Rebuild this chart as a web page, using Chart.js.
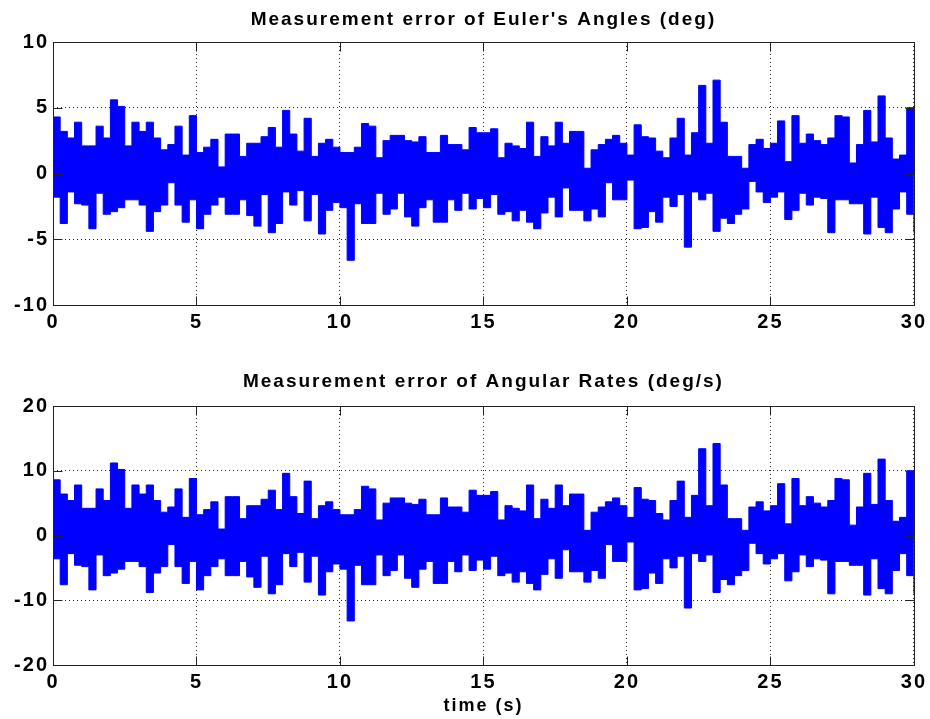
<!DOCTYPE html>
<html>
<head>
<meta charset="utf-8">
<script src="https://cdn.jsdelivr.net/npm/chart.js@4.4.0/dist/chart.umd.min.js"></script>
<style>
  html, body { margin: 0; padding: 0; background: #fff; }
  canvas { display: block; }
</style>
</head>
<body>
<canvas id="angles" width="930" height="360"></canvas>
<canvas id="rates" width="930" height="359"></canvas>
<script>
// time base: one value every 0.25 s from 0 to 30 s
var sampleStep = 0.25;
var times = [];
for (var i = 0; i <= 120; i++) times.push(i * sampleStep);

var xTicks = [0, 5, 10, 15, 20, 25, 30];

// Euler angles error (deg): upper and lower edge of the noise band
var angleUpper = [
  4.3, 3.2, 2.7, 3.9, 2.1, 2.1, 3.6, 2.7, 5.6, 5.1,
  2.1, 3.9, 3.2, 3.9, 2.7, 1.8, 2.2, 3.6, 1.4, 4.4,
  1.6, 2.0, 2.6, 0.5, 3.0, 3.0, 1.3, 2.3, 2.3, 2.8,
  3.5, 2.0, 4.8, 3.0, 1.7, 4.2, 1.3, 2.3, 2.6, 2.0,
  1.6, 1.6, 2.0, 3.8, 3.6, 1.2, 2.5, 2.9, 2.9, 2.5,
  2.4, 2.8, 1.6, 1.6, 2.9, 2.2, 2.2, 1.8, 3.5, 3.1,
  3.1, 3.4, 1.2, 2.3, 2.1, 1.9, 3.9, 1.3, 2.8, 2.1,
  3.9, 2.3, 3.2, 3.2, 0.4, 1.8, 2.2, 2.6, 2.9, 2.3,
  1.4, 3.7, 2.8, 2.7, 1.7, 1.2, 2.7, 4.2, 1.4, 3.1,
  6.7, 2.3, 7.1, 3.9, 1.3, 1.3, 0.4, 2.2, 2.6, 1.9,
  2.3, 4.0, 0.9, 4.4, 2.3, 3.0, 2.5, 2.2, 2.7, 4.4,
  4.3, 0.8, 2.2, 4.8, 2.4, 5.9, 2.7, 1.1, 1.4, 5.0,
  0.0
];
var angleLower = [
  -1.8, -3.8, -1.4, -2.3, -2.4, -4.2, -1.5, -3.1, -2.9, -2.6,
  -2.0, -2.0, -2.4, -4.4, -2.9, -2.4, -0.7, -2.4, -3.7, -2.0,
  -4.2, -3.1, -2.4, -1.8, -3.1, -3.1, -2.0, -3.2, -4.0, -1.6,
  -4.5, -3.8, -1.4, -2.4, -1.3, -3.6, -1.6, -4.6, -2.8, -2.2,
  -2.6, -6.6, -2.3, -3.8, -3.8, -1.5, -3.1, -2.7, -1.5, -3.3,
  -4.0, -2.6, -2.0, -3.7, -3.7, -2.0, -2.8, -1.5, -2.7, -1.9,
  -2.6, -1.6, -3.1, -2.9, -3.6, -2.8, -3.7, -4.2, -3.0, -1.8,
  -3.3, -1.1, -2.8, -2.8, -3.6, -2.7, -3.3, -0.7, -2.0, -2.0,
  -0.5, -4.2, -4.1, -2.9, -3.7, -1.8, -2.5, -1.6, -5.6, -1.4,
  -2.0, -1.5, -4.4, -3.4, -3.8, -3.1, -2.7, -0.6, -1.4, -2.2,
  -1.8, -1.4, -3.5, -2.8, -1.5, -2.4, -1.8, -1.9, -4.5, -2.0,
  -2.0, -2.3, -2.3, -4.6, -1.8, -4.1, -4.5, -2.7, -1.4, -3.1,
  -4.5
];
var angleTicks = [-10, -5, 0, 5, 10];

// Angular rates error (deg/s)
var rateUpper = [
  8.6, 6.4, 5.4, 7.8, 4.2, 4.2, 7.2, 5.4, 11.2, 10.2,
  4.2, 7.8, 6.4, 7.8, 5.4, 3.6, 4.4, 7.2, 2.8, 8.8,
  3.2, 4.0, 5.2, 1.0, 6.0, 6.0, 2.6, 4.6, 4.6, 5.6,
  7.0, 4.0, 9.6, 6.0, 3.4, 8.4, 2.6, 4.6, 5.2, 4.0,
  3.2, 3.2, 4.0, 7.6, 7.2, 2.4, 5.0, 5.8, 5.8, 5.0,
  4.8, 5.6, 3.2, 3.2, 5.8, 4.4, 4.4, 3.6, 7.0, 6.2,
  6.2, 6.8, 2.4, 4.6, 4.2, 3.8, 7.8, 2.6, 5.6, 4.2,
  7.8, 4.6, 6.4, 6.4, 0.8, 3.6, 4.4, 5.2, 5.8, 4.6,
  2.8, 7.4, 5.6, 5.4, 3.4, 2.4, 5.4, 8.4, 2.8, 6.2,
  13.4, 4.6, 14.2, 7.8, 2.6, 2.6, 0.8, 4.4, 5.2, 3.8,
  4.6, 8.0, 1.8, 8.8, 4.6, 6.0, 5.0, 4.4, 5.4, 8.8,
  8.6, 1.6, 4.4, 9.6, 4.8, 11.8, 5.4, 2.2, 2.8, 10.0,
  0.0
];
var rateLower = [
  -3.6, -7.6, -2.8, -4.6, -4.8, -8.4, -3.0, -6.2, -5.8, -5.2,
  -4.0, -4.0, -4.8, -8.8, -5.8, -4.8, -1.4, -4.8, -7.4, -4.0,
  -8.4, -6.2, -4.8, -3.6, -6.2, -6.2, -4.0, -6.4, -8.0, -3.2,
  -9.0, -7.6, -2.8, -4.8, -2.6, -7.2, -3.2, -9.2, -5.6, -4.4,
  -5.2, -13.2, -4.6, -7.6, -7.6, -3.0, -6.2, -5.4, -3.0, -6.6,
  -8.0, -5.2, -4.0, -7.4, -7.4, -4.0, -5.6, -3.0, -5.4, -3.8,
  -5.2, -3.2, -6.2, -5.8, -7.2, -5.6, -7.4, -8.4, -6.0, -3.6,
  -6.6, -2.2, -5.6, -5.6, -7.2, -5.4, -6.6, -1.4, -4.0, -4.0,
  -1.0, -8.4, -8.2, -5.8, -7.4, -3.6, -5.0, -3.2, -11.2, -2.8,
  -4.0, -3.0, -8.8, -6.8, -7.6, -6.2, -5.4, -1.2, -2.8, -4.4,
  -3.6, -2.8, -7.0, -5.6, -3.0, -4.8, -3.6, -3.8, -9.0, -4.0,
  -4.0, -4.6, -4.6, -9.2, -3.6, -8.2, -9.0, -5.4, -2.8, -6.2,
  -9.0
];
var rateTicks = [-20, -10, 0, 10, 20];

Chart.defaults.font.family = "'Liberation Sans', Arial, sans-serif";
Chart.defaults.font.weight = 'bold';
Chart.defaults.font.size = 20;
Chart.defaults.color = '#000';

function toPoints(values) {
  return values.map(function (v, i) { return { x: times[i], y: v }; });
}

// box around the axes with inward tick marks, like the original plot
var matlabBox = {
  id: 'matlabBox',
  beforeDraw: function (chart) {
    chart.ctx.letterSpacing = '2px';
  },
  afterDatasetsDraw: function (chart) {
    var ctx = chart.ctx, a = chart.chartArea;
    var x = chart.scales.x, y = chart.scales.y;
    var L = Math.round(a.left) + 0.5, R = Math.round(a.right) + 0.5;
    var T = Math.round(a.top) + 0.5, B = Math.round(a.bottom) + 0.5;
    var len = 9;
    ctx.save();
    ctx.strokeStyle = '#222';
    ctx.lineWidth = 1;
    ctx.setLineDash([]);
    ctx.beginPath();
    x.ticks.forEach(function (t) {
      var px = Math.round(x.getPixelForValue(t.value)) + 0.5;
      ctx.moveTo(px, B); ctx.lineTo(px, B - len);
      ctx.moveTo(px, T); ctx.lineTo(px, T + len);
    });
    y.ticks.forEach(function (t) {
      var py = Math.round(y.getPixelForValue(t.value)) + 0.5;
      ctx.moveTo(L, py); ctx.lineTo(L + len, py);
      ctx.moveTo(R, py); ctx.lineTo(R - len, py);
    });
    ctx.rect(L, T, R - L, B - T);
    ctx.stroke();
    ctx.restore();
  }
};

function makeChart(id, titleText, upper, lower, yTicks, cfg) {
  var yStep = yTicks[1] - yTicks[0];
  return new Chart(document.getElementById(id), {
    type: 'line',
    data: {
      datasets: [{
        data: toPoints(upper),
        stepped: true,
        borderColor: '#0000ff',
        backgroundColor: '#0000ff',
        borderWidth: 1,
        pointRadius: 0,
        fill: '+1'
      }, {
        data: toPoints(lower),
        stepped: true,
        borderColor: '#0000ff',
        borderWidth: 1,
        pointRadius: 0,
        fill: false
      }]
    },
    options: {
      responsive: false,
      animation: false,
      events: [],
      layout: { padding: { left: 0, right: 14, top: 0, bottom: 0 } },
      plugins: {
        legend: { display: false },
        tooltip: { enabled: false },
        title: {
          display: true,
          fullSize: false,
          text: titleText,
          font: { size: 19, weight: 'bold' },
          padding: cfg.titlePadding
        }
      },
      scales: {
        x: {
          type: 'linear',
          min: 0, max: 30,
          afterBuildTicks: function (s) { s.ticks = xTicks.map(function (v) { return { value: v }; }); },
          afterFit: function (s) { s.height = cfg.xHeight; },
          ticks: { padding: 5, maxRotation: 0, autoSkip: false },
          grid: { color: 'rgba(0,0,0,0.85)', drawTicks: false, lineWidth: 1 },
          border: { display: false, dash: [1, 3] },
          title: cfg.xTitle
        },
        y: {
          min: yTicks[0], max: yTicks[yTicks.length - 1],
          afterBuildTicks: function (s) { s.ticks = yTicks.map(function (v) { return { value: v }; }); },
          afterFit: function (s) { s.width = 53; },
          ticks: { padding: 4, stepSize: yStep },
          grid: { color: 'rgba(0,0,0,0.85)', drawTicks: false, lineWidth: 1 },
          border: { display: false, dash: [1, 3] }
        }
      }
    },
    plugins: [matlabBox]
  });
}

makeChart('angles', "Measurement error of Euler's Angles (deg)", angleUpper, angleLower, angleTicks, {
  titlePadding: { top: 8.1, bottom: 11.1 },
  xHeight: 55,
  xTitle: { display: false }
});

makeChart('rates', 'Measurement error of Angular Rates (deg/s)', rateUpper, rateLower, rateTicks, {
  titlePadding: { top: 10.1, bottom: 13.1 },
  xHeight: 54,
  xTitle: { display: true, text: 'time (s)', font: { size: 18, weight: 'bold' }, padding: { top: 0, bottom: 2 } }
});
</script>
</body>
</html>
